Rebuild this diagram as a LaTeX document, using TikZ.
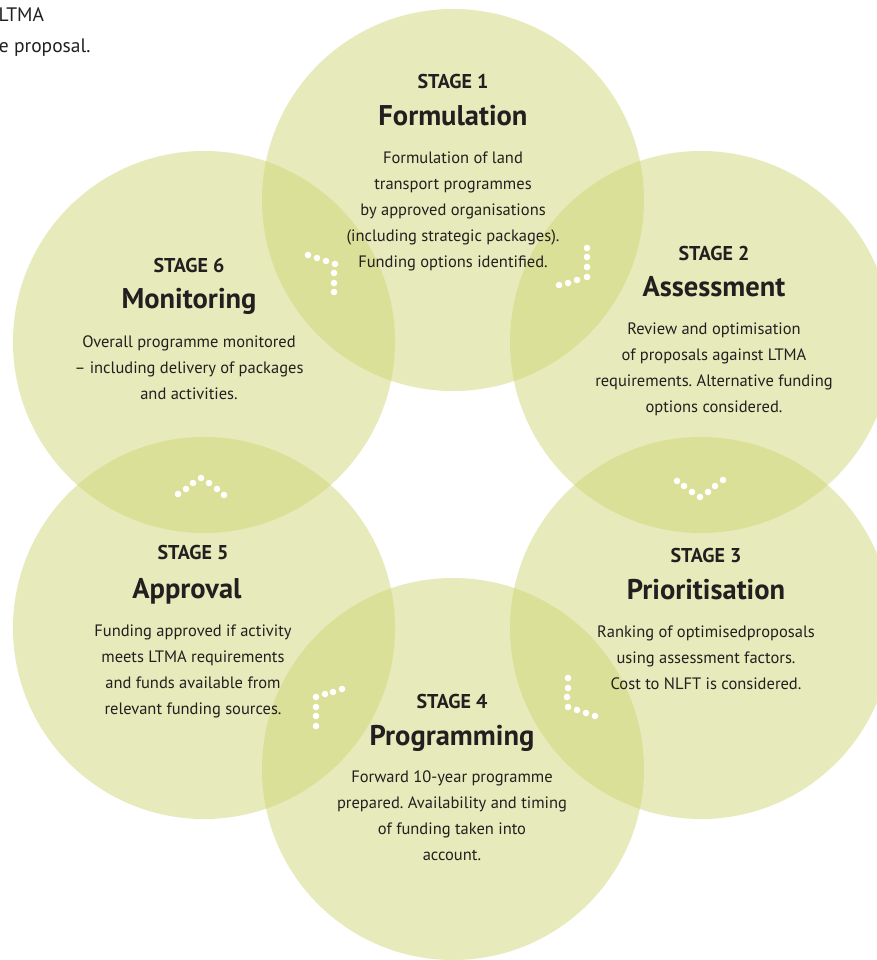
\documentclass[tikz,border=0pt]{standalone}
\usepackage{fontspec}
\setmainfont{PT Sans}
\usepackage{xcolor}
\usepackage{tikz}

\definecolor{leaf}{RGB}{209,215,119}
\definecolor{ink}{RGB}{35,31,32}
\frenchspacing

\begin{document}
\begin{tikzpicture}
    [x=1pt,y=-1pt,
    circ/.style={shape=circle,fill=leaf,fill opacity=0.5,minimum size=382pt,inner sep=0pt},
    stage/.style={anchor=base,text=ink,font=\fontsize{20}{24}\selectfont\bfseries},
    title/.style={anchor=base,text=ink,font=\fontsize{28.5}{32}\selectfont\bfseries},
    body/.style={anchor=base,text=ink,align=center,font=\fontsize{16.5}{26}\selectfont},
    cut/.style={anchor=base east,text=ink,font=\fontsize{19.5}{31}\selectfont},
    dot/.style={fill=white}]

    \fill [white,use as bounding box] (0,0) rectangle (877,960);
    \clip (0,0) rectangle (877,960);

    % text cut off at the left edge
    \node (lt1) [cut] at (47.5,22) {LTMA};
    \node (lt2) [cut] at (94,53) {e proposal.};

    % the six stages
    \node (c1) [circ] at (453,200) {};
    \node (c2) [circ] at (701,342) {};
    \node (c3) [circ] at (701,628) {};
    \node (c4) [circ] at (453,769) {};
    \node (c5) [circ] at (204,628) {};
    \node (c6) [circ] at (204,342) {};

    % body nodes sit on the baseline of their last line
    \node (s1) [stage] at (453,89) {STAGE 1};
    \node (t1) [title] at (453,126) {Formulation};
    \node (b1) [body] at (453,267) {Formulation of land\\transport programmes\\by approved organisations\\(including strategic packages).\\Funding options identified.};

    \node (s2) [stage] at (714,260) {STAGE 2};
    \node (t2) [title] at (714,296) {Assessment};
    \node (b2) [body] at (714,412) {Review and optimisation\\of proposals against LTMA\\requirements. Alternative funding\\options considered.};

    \node (s3) [stage] at (706,562) {STAGE 3};
    \node (t3) [title] at (706,599) {Prioritisation};
    \node (b3) [body] at (706,689) {Ranking of optimisedproposals\\using assessment factors.\\Cost to NLFT is considered.};

    \node (s4) [stage] at (452,708) {STAGE 4};
    \node (t4) [title] at (452,745) {Programming};
    \node (b4) [body] at (452,860) {Forward 10-year programme\\prepared. Availability and timing\\of funding taken into\\account.};

    \node (s5) [stage] at (193,559) {STAGE 5};
    \node (t5) [title] at (187,598) {Approval};
    \node (b5) [body] at (193,714) {Funding approved if activity\\meets LTMA requirements\\and funds available from\\relevant funding sources.};

    \node (s6) [stage] at (189,272) {STAGE 6};
    \node (t6) [title] at (189,308) {Monitoring};
    \node (b6) [body] at (189,399) {Overall programme monitored\\-- including delivery of packages\\and activities.};

    % dotted turns between the stages
    \foreach \x/\y in {308/255,317/258,326/261,335/264,334/273,334/283,334/292,
                       587/248,587/257,587/267,587/277,577/280,568/283,559/285,
                       677/481,684/486,692/492,700/497,708/492,715/486,723/480,
                       568/678,568/688,567/697,568/707,577/710,586/713,595/716,
                       342/689,333/692,325/694,316/697,316/707,316/716,316/726,
                       178/494,186/489,193/483,201/478,209/483,217/489,224/495}
        \fill [dot] (\x,\y) circle [radius=3.3pt];

\end{tikzpicture}
\end{document}
